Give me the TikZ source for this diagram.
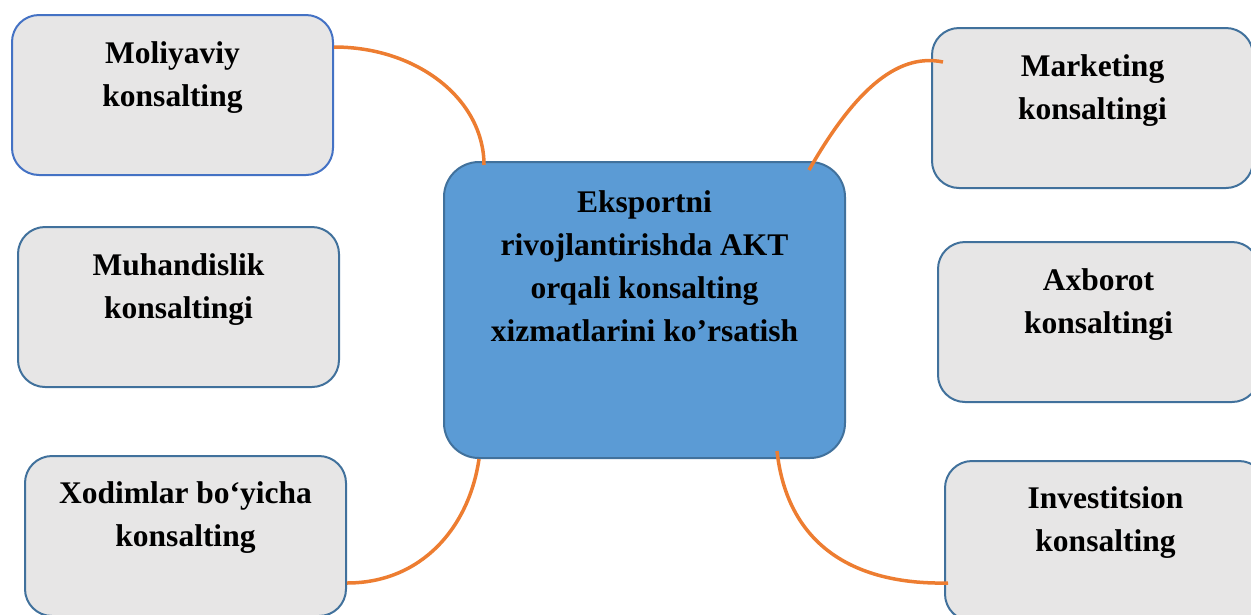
\documentclass[tikz,border=0pt]{standalone}
\usepackage{fontspec}
\setmainfont{Liberation Serif}
\definecolor{boxfill}{HTML}{E7E6E6}
\definecolor{boxline}{HTML}{41719C}
\definecolor{boxlineb}{HTML}{4472C4}
\definecolor{ctrfill}{HTML}{5B9BD5}
\definecolor{ctrline}{HTML}{41719C}
\definecolor{linkcol}{HTML}{ED7D31}
\begin{document}
\begin{tikzpicture}[x=1pt,y=-1pt,
  box/.style={draw=boxline, fill=boxfill, line width=2pt, rounded corners=27pt,
    minimum width=321pt, minimum height=160pt, inner sep=0pt, anchor=north west},
  ctrbox/.style={box, fill=ctrfill, draw=ctrline, rounded corners=35pt,
    minimum width=401pt, minimum height=296pt},
  lbl/.style={anchor=base, inner sep=0pt, font=\fontsize{31.5}{43}\selectfont\bfseries},
  link/.style={draw=linkcol, line width=3.5pt}]
\useasboundingbox (0,0) rectangle (1251,614);
\clip (0,0) rectangle (1251,614);

\node[box, draw=boxlineb] (b1) at (11,14) {};
\node[box] (b2) at (931,27) {};
\node[box] (b3) at (17,226) {};
\node[box] (b4) at (937,241) {};
\node[box] (b5) at (24,455) {};
\node[box] (b6) at (944,460) {};
\node[ctrbox] (ctr) at (443,161) {};

\node[lbl] (t1) at ([yshift=-49pt]b1.north) {\parbox[t]{321pt}{\centering Moliyaviy\\konsalting}};
\node[lbl] (t2) at ([yshift=-49pt]b2.north) {\parbox[t]{321pt}{\centering Marketing\\konsaltingi}};
\node[lbl] (t3) at ([yshift=-49pt]b3.north) {\parbox[t]{321pt}{\centering Muhandislik\\konsaltingi}};
\node[lbl] (t4) at ([yshift=-49pt]b4.north) {\parbox[t]{321pt}{\centering Axborot\\konsaltingi}};
\node[lbl] (t5) at ([yshift=-48pt]b5.north) {\parbox[t]{321pt}{\centering Xodimlar bo‘yicha\\konsalting}};
\node[lbl] (t6) at ([yshift=-48pt]b6.north) {\parbox[t]{321pt}{\centering Investitsion\\konsalting}};
\node[lbl] (tc) at ([yshift=-51pt]ctr.north) {\parbox[t]{401pt}{\centering Eksportni\\rivojlantirishda AKT\\orqali konsalting\\xizmatlarini ko’rsatish}};

\draw[link] ([yshift=-33pt]b1.north east) .. controls +(84,0) and +(0,-65) .. ([xshift=41pt,yshift=-4pt]ctr.north west);
\draw[link] ([xshift=-37pt,yshift=-9pt]ctr.north east) .. controls +(43,-75) and +(-48,-10) .. ([xshift=12pt,yshift=-35pt]b2.north west);
\draw[link] ([yshift=-128pt]b5.north east) .. controls +(74,0) and +(-10,69) .. ([xshift=36pt]ctr.south west);
\draw[link] ([xshift=-69pt,yshift=8pt]ctr.south east) .. controls +(10,91) and +(-98,2) .. ([xshift=4pt,yshift=-123pt]b6.north west);
\end{tikzpicture}
\end{document}
